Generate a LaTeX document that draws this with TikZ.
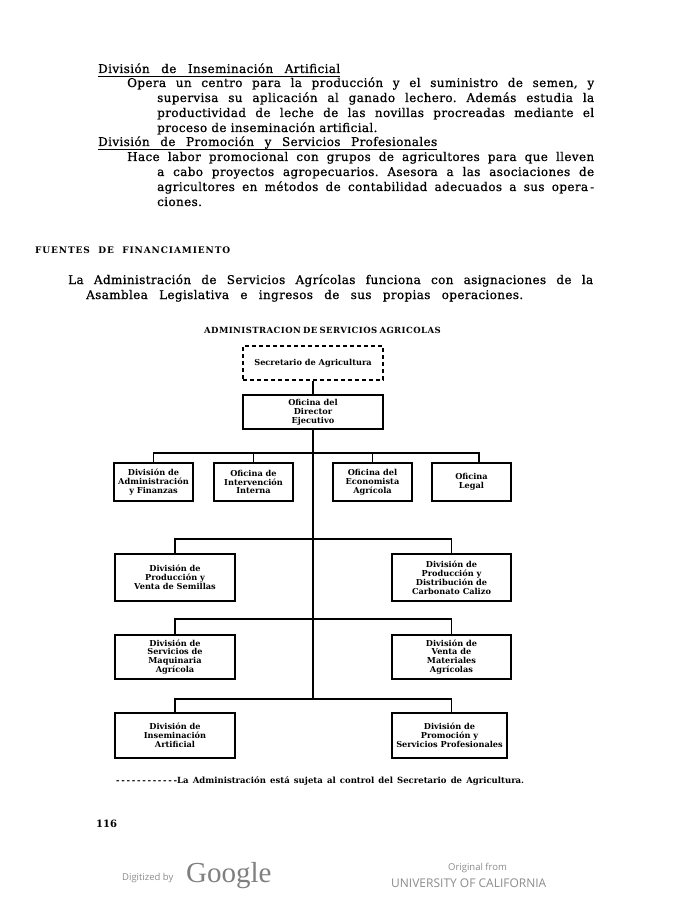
\documentclass[tikz,border=0pt]{standalone}
\usepackage{fontspec}
\setmainfont{DejaVu Serif}
\newfontfamily\bodyf[LetterSpace=3,FakeBold=0.8]{DejaVu Serif}
\newfontfamily\capsf[LetterSpace=10]{DejaVu Serif}
\newfontfamily\titlef[LetterSpace=5]{DejaVu Serif}
\newfontfamily\chartf{DejaVu Serif}
\newfontfamily\gsans{Open Sans}
\newfontfamily\gserif{Liberation Serif}
\definecolor{gtxt}{gray}{0.55}
\newcommand\bodyline[5]{\node[txt] (#1) at (#2,#3) {\makebox[#4pt][s]{#5}};}
\newcommand\freeline[4]{\node[txt] (#1) at (#2,#3) {#4};}
\tikzset{
  txt/.style={anchor=base west,inner sep=0pt,font=\bodyf\frenchspacing\fontsize{12}{13}\selectfont},
  orgbox/.style={draw,line width=1.2pt,inner sep=0pt,align=center,
    font=\chartf\bfseries\fontsize{8.2}{8.9}\selectfont},
  conn/.style={line width=1.2pt},
  uline/.style={line width=1pt}
}
\begin{document}
\begin{tikzpicture}[x=1pt,y=-1pt]
\fill[white] (0,0) rectangle (680,901);
\useasboundingbox (0,0) rectangle (680,901);

% ---- body text ----
\bodyline{h1}{98}{73}{242}{División de Inseminación Artificial}
\draw[uline] ([yshift=-3.5pt]h1.base west) -- ([yshift=-3.5pt]h1.base east);
\bodyline{p1a}{127}{87}{467}{Opera un centro para la producción y el suministro de semen, y}
\bodyline{p1b}{157}{102}{437}{supervisa su aplicación al ganado lechero. Además estudia la}
\bodyline{p1c}{157}{117}{437}{productividad de leche de las novillas procreadas mediante el}
\freeline{p1d}{157}{132}{proceso de inseminación artificial.}
\bodyline{h2}{98}{146}{339}{División de Promoción y Servicios Profesionales}
\draw[uline] ([yshift=-3.5pt]h2.base west) -- ([yshift=-3.5pt]h2.base east);
\bodyline{p2a}{127}{161}{467}{Hace labor promocional con grupos de agricultores para que lleven}
\bodyline{p2b}{157}{176}{437}{a cabo proyectos agropecuarios. Asesora a las asociaciones de}
\bodyline{p2c}{157}{191}{437}{agricultores en métodos de contabilidad adecuados a sus opera\kern2pt-}
\freeline{p2d}{157}{206}{ciones.}

\node[anchor=base west,inner sep=0pt,font=\capsf\bfseries\fontsize{9}{10}\selectfont] (fuentes) at (35,253)
  {\makebox[195pt][s]{FUENTES DE FINANCIAMIENTO}};

\bodyline{p3a}{68}{284}{525}{La Administración de Servicios Agrícolas funciona con asignaciones de la}
\bodyline{p3b}{86}{299}{437}{Asamblea Legislativa e ingresos de sus propias operaciones.}

% ---- chart ----
\node[anchor=base west,inner sep=0pt,font=\titlef\bfseries\fontsize{8.5}{9}\selectfont] (title) at (204,333)
  {\makebox[225pt][s]{ADMINISTRACION DE SERVICIOS AGRICOLAS}};

\node[orgbox,dash pattern=on 4pt off 3pt,minimum width=140pt,minimum height=34pt] (sec) at (313,363) {Secretario de Agricultura};
\node[orgbox,minimum width=140pt,minimum height=34pt] (dir) at (313,412) {Oficina del\\Director\\Ejecutivo};

\node[orgbox,minimum width=79pt,minimum height=38pt] (b1) at (153.5,482) {División de\\Administración\\y Finanzas};
\node[orgbox,minimum width=79pt,minimum height=38pt] (b2) at (253.5,482) {Oficina de\\Intervención\\Interna};
\node[orgbox,minimum width=79pt,minimum height=38pt] (b3) at (372.5,482) {Oficina del\\Economista\\Agrícola};
\node[orgbox,minimum width=79pt,minimum height=38pt] (b4) at (471.5,482) {Oficina\\Legal};

\node[orgbox,minimum width=120pt,minimum height=47pt] (l2) at (175,577.5) {División de\\Producción y\\Venta de Semillas};
\node[orgbox,minimum width=119pt,minimum height=47pt] (r2) at (451.5,577.5) {División de\\Producción y\\Distribución de\\Carbonato Calizo};
\node[orgbox,minimum width=120pt,minimum height=44pt] (l3) at (175,657) {División de\\Servicios de\\Maquinaria\\Agrícola};
\node[orgbox,minimum width=119pt,minimum height=44pt] (r3) at (451.5,657) {División de\\Venta de\\Materiales\\Agrícolas};
\node[orgbox,minimum width=120pt,minimum height=45pt] (l4) at (175,735.5) {División de\\Inseminación\\Artificial};
\node[orgbox,minimum width=115pt,minimum height=45pt] (r4) at (449.5,735.5) {División de\\Promoción y\\Servicios Profesionales};

\coordinate (j1) at (313,453);
\coordinate (j2) at (313,539);
\coordinate (j3) at (313,619);
\coordinate (j4) at (313,699);

\draw[conn] (sec.south) -- (dir.north);
\draw[conn] (dir.south) -- (j4);
\draw[conn] (b1.north) |- (j1) -| ([xshift=7.5pt]b4.north);
\draw[conn] (b2.north) -- (b2.north |- j1);
\draw[conn] (b3.north) -- (b3.north |- j1);
\draw[conn] (l2.north) |- (j2) -| (r2.north);
\draw[conn] (l3.north) |- (j3) -| (r3.north);
\draw[conn] (l4.north) |- (j4) -| ([xshift=2pt]r4.north);

\node[anchor=base west,inner sep=0pt,font=\chartf\bfseries\frenchspacing\fontsize{8.5}{9}\selectfont] (fn) at (116,783)
  {\makebox[61pt]{-\hfill-\hfill-\hfill-\hfill-\hfill-\hfill-\hfill-\hfill-\hfill-\hfill-\hfill-}\makebox[347pt][s]{La Administración está sujeta al control del Secretario de Agricultura.}};

\node[anchor=base west,inner sep=0pt,font=\chartf\bfseries\fontsize{10}{12}\selectfont] (pg) at (96,827) {116};

% ---- footer ----
\node[anchor=base west,inner sep=0pt,text=gtxt,font=\gsans\fontsize{9.5}{11}\selectfont] (dig) at (122,880) {Digitized by};
\node[anchor=base west,inner sep=0pt,text=gray,font=\gserif\fontsize{29}{30}\selectfont] (goog) at (186,882) {Google};
\node[anchor=base west,inner sep=0pt,text=gtxt,font=\gsans\fontsize{9.5}{11}\selectfont] (orig) at (448,870) {Original from};
\node[anchor=base west,inner sep=0pt,text=gtxt,font=\gsans\fontsize{12}{14}\selectfont] (univ) at (391,887) {UNIVERSITY OF CALIFORNIA};
\end{tikzpicture}
\end{document}
